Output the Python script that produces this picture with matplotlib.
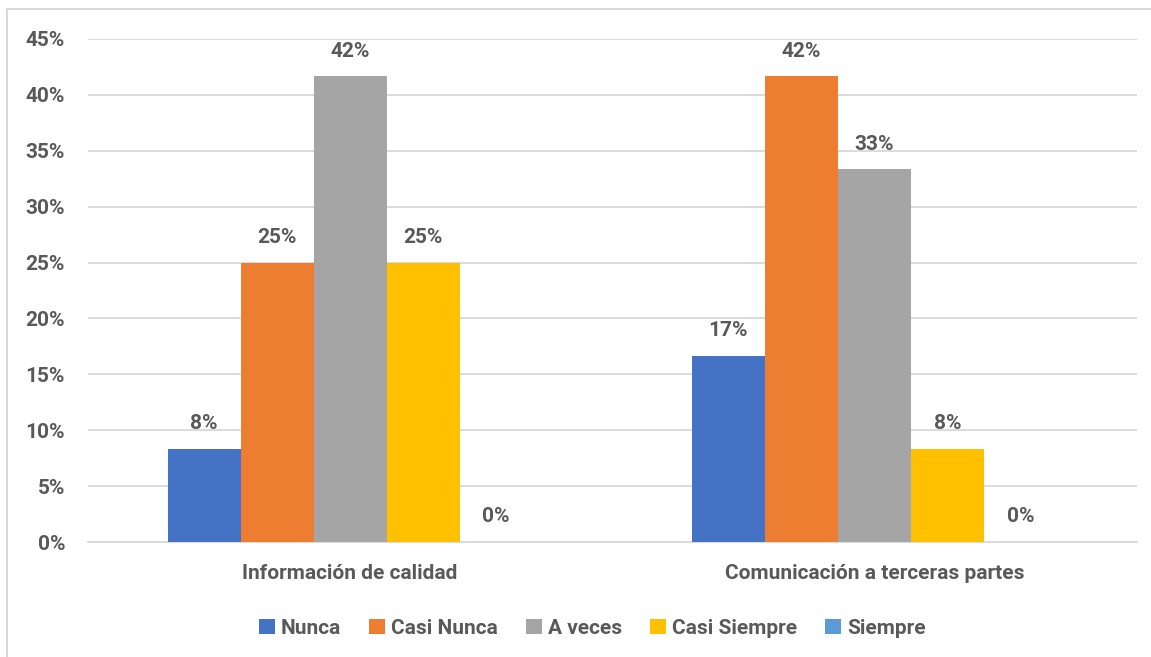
import numpy as np
import matplotlib.pyplot as plt
from matplotlib.lines import Line2D

plt.rcParams['font.family'] = ['Roboto', 'DejaVu Sans']
plt.rcParams['font.weight'] = 'bold'

categories = ['Información de calidad', 'Comunicación a terceras partes']
series = ['Nunca', 'Casi Nunca', 'A veces', 'Casi Siempre', 'Siempre']
values = [
    [8.33, 16.67],   # Nunca
    [25.0, 41.67],   # Casi Nunca
    [41.67, 33.33],  # A veces
    [25.0, 8.33],    # Casi Siempre
    [0.0, 0.0],      # Siempre
]
colors = ['#4472C4', '#ED7D31', '#A5A5A5', '#FFC000', '#5B9BD5']
txt = '#595959'

fig = plt.figure(figsize=(11.51, 6.57), dpi=100)
ax = fig.add_axes([88/1151, 115/657, (1136.5-88)/1151, (618-115)/657])

x = np.arange(len(categories))
w = 0.1393
for i, (name, vals) in enumerate(zip(series, values)):
    pos = x + (i - 2) * w
    ax.bar(pos, vals, width=w, color=colors[i], label=name, zorder=3)
    for p, v in zip(pos, vals):
        ax.text(p, v + 1.4, f'{v:.0f}%', ha='center', va='bottom',
                fontsize=15, color=txt, fontweight='bold')

ax.set_xlim(-0.5, 1.5)
ax.set_ylim(0, 45)
ax.set_yticks(np.arange(0, 46, 5))
ax.set_yticklabels([f'{t}%' for t in range(0, 46, 5)])
ax.set_xticks(x)
ax.set_xticklabels(categories)
ax.grid(axis='y', color='#D9D9D9', linewidth=1.3, zorder=0)
for s in ['top', 'right', 'left']:
    ax.spines[s].set_visible(False)
ax.spines['bottom'].set_color('#D9D9D9')
ax.spines['bottom'].set_linewidth(1.3)
ax.tick_params(axis='both', length=0, labelsize=15, labelcolor=txt)
ax.tick_params(axis='y', pad=16.5)
ax.tick_params(axis='x', pad=16)

ax.legend(loc='center', bbox_to_anchor=(0.481, -0.172), ncol=5, frameon=False,
          fontsize=15, labelcolor=txt, handlelength=0.75, handleheight=0.75,
          handletextpad=0.3, columnspacing=1.35)

fig.add_artist(Line2D([7/1151, 7/1151], [0, 1 - 9/657], color='#D9D9D9', lw=1.5))
fig.add_artist(Line2D([7/1151, 1], [1 - 9/657, 1 - 9/657], color='#D9D9D9', lw=1.5))

fig.savefig('out.png', dpi=100)
